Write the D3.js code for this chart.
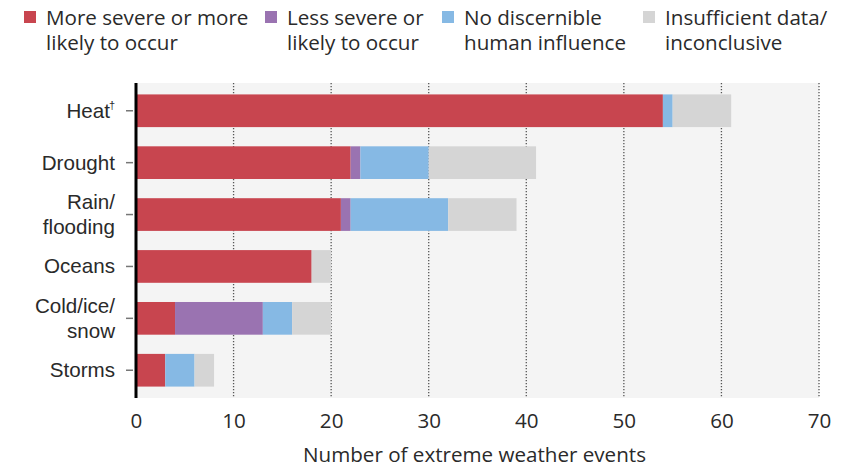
<!DOCTYPE html>
<html>
<head>
<meta charset="utf-8">
<script src="https://cdn.jsdelivr.net/npm/d3@7"></script>
<style>
  body { margin: 0; background: #fff; }
  svg { display: block; font-family: "Open Sans", "Liberation Sans", sans-serif; }
</style>
</head>
<body>
<div id="main"></div>
<script>
// data
const categories = ["Heat", "Drought", "Rain/flooding", "Oceans", "Cold/ice/snow", "Storms"];
const categoryLines = [["Heat"], ["Drought"], ["Rain/", "flooding"], ["Oceans"], ["Cold/ice/", "snow"], ["Storms"]];
const moreSevere = [54, 22, 21, 18, 4, 3];
const lessSevere = [0, 1, 1, 0, 9, 0];
const noInfluence = [1, 7, 10, 0, 3, 3];
const insufficient = [6, 11, 7, 2, 4, 2];
const seriesKeys = ["more", "less", "none", "insufficient"];
const seriesLabels = [
  ["More severe or more", "likely to occur"],
  ["Less severe or", "likely to occur"],
  ["No discernible", "human influence"],
  ["Insufficient data/", "inconclusive"]
];
const xTicks = [0, 10, 20, 30, 40, 50, 60, 70];
const xTitle = "Number of extreme weather events";

const colors = ["#c8454f", "#9a73b1", "#86b9e4", "#d5d5d5"];
const fs = 20.6;

const W = 851, H = 468;
const m = {left: 136, right: 32, top: 83, bottom: 70};

const rows = categories.map((c, i) => ({
  cat: c,
  more: moreSevere[i],
  less: lessSevere[i],
  none: noInfluence[i],
  insufficient: insufficient[i]
}));

const svg = d3.select("#main").append("svg")
  .attr("width", W)
  .attr("height", H);

const x = d3.scaleLinear().domain([0, 70]).range([m.left, W - m.right]);
const y = d3.scaleBand().domain(categories)
  .range([m.top, H - m.bottom])
  .paddingInner(0.37)
  .paddingOuter(0.22);

// plot background
svg.append("rect")
  .attr("x", x(0)).attr("y", m.top)
  .attr("width", x(70) - x(0))
  .attr("height", H - m.bottom - m.top)
  .attr("fill", "#f4f4f4");

// dotted gridlines
svg.append("g")
  .selectAll("line")
  .data(xTicks.filter(d => d > 0))
  .join("line")
  .attr("x1", d => x(d)).attr("x2", d => x(d))
  .attr("y1", m.top).attr("y2", H - m.bottom)
  .attr("stroke", "#555")
  .attr("stroke-width", 1.3)
  .attr("stroke-dasharray", "1.3,1.7");

// stacked bars
const stack = d3.stack().keys(seriesKeys);
const layers = stack(rows);

svg.append("g")
  .selectAll("g")
  .data(layers)
  .join("g")
  .attr("fill", (d, i) => colors[i])
  .selectAll("rect")
  .data(d => d.filter(p => p[1] > p[0]))
  .join("rect")
  .attr("x", d => x(d[0]))
  .attr("y", d => y(d.data.cat))
  .attr("width", d => x(d[1]) - x(d[0]))
  .attr("height", y.bandwidth());

// y axis
const yAxis = svg.append("g")
  .attr("transform", `translate(${m.left - 1},0)`)
  .call(d3.axisLeft(y).tickSize(8).tickSizeOuter(0).tickFormat(""));
yAxis.select(".domain").remove();
yAxis.selectAll(".tick line").attr("stroke", "#777").attr("stroke-width", 1.5).attr("x2", -9).attr("x1", -2);

yAxis.selectAll(".tick").each(function(d, i) {
  const lines = categoryLines[i];
  const t = d3.select(this).append("text")
    .attr("x", -20)
    .attr("fill", "#2a2a2a")
    .attr("font-size", fs)
    .attr("text-anchor", "end");
  const lh = 25;
  const start = -(lines.length - 1) * lh / 2 + 7;
  lines.forEach((ln, j) => {
    t.append("tspan").attr("x", -20).attr("y", start + j * lh).text(ln);
  });
  if (i === 0) {
    t.select("tspan").attr("x", -25);
    d3.select(this).append("text")
      .attr("x", -20).attr("y", -2)
      .attr("fill", "#2a2a2a")
      .attr("font-size", 11)
      .attr("text-anchor", "end")
      .text("†");
  }
});

svg.append("line")
  .attr("x1", m.left).attr("x2", m.left)
  .attr("y1", m.top).attr("y2", H - m.bottom)
  .attr("stroke", "#000")
  .attr("stroke-width", 3);

// x axis
const xAxis = svg.append("g")
  .attr("transform", `translate(0,${H - m.bottom})`)
  .call(d3.axisBottom(x).tickValues(xTicks).tickSize(0).tickPadding(0));
xAxis.select(".domain").remove();
xAxis.selectAll(".tick text")
  .attr("font-size", fs)
  .attr("fill", "#2a2a2a")
  .attr("font-family", "Open Sans, sans-serif")
  .attr("dy", null)
  .attr("y", 30);

svg.append("text")
  .attr("x", (x(0) + x(70)) / 2 - 3)
  .attr("y", 462)
  .attr("text-anchor", "middle")
  .attr("font-size", fs)
  .attr("fill", "#2a2a2a")
  .text(xTitle);

// legend
const legendSquareX = [24, 265, 442, 643];
const legend = svg.append("g")
  .selectAll("g")
  .data(seriesLabels)
  .join("g")
  .attr("transform", (d, i) => `translate(${legendSquareX[i]},0)`);

legend.append("rect")
  .attr("x", 0).attr("y", 11)
  .attr("width", 12).attr("height", 12)
  .attr("fill", (d, i) => colors[i]);

legend.append("text")
  .attr("font-size", fs)
  .attr("fill", "#2a2a2a")
  .selectAll("tspan")
  .data(d => d)
  .join("tspan")
  .attr("x", 22)
  .attr("y", (d, j) => 25 + j * 25)
  .text(d => d);
</script>
</body>
</html>
